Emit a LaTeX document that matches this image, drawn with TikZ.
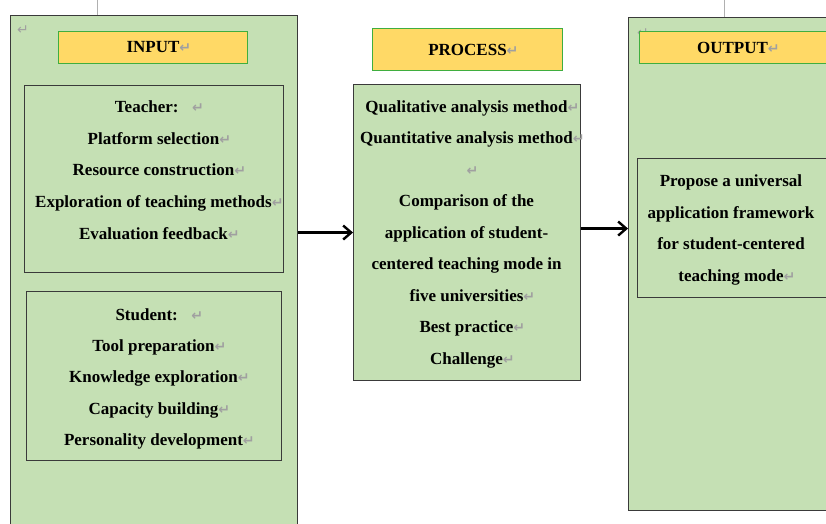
\documentclass[tikz,border=0pt]{standalone}
\usepackage{fontspec}
\setmainfont{Liberation Serif}
\newfontfamily\markfont{DejaVu Sans}
\usetikzlibrary{arrows.meta}

\definecolor{panelgreen}{HTML}{C5E0B4}
\definecolor{labelyellow}{HTML}{FFD966}
\definecolor{labeledge}{HTML}{3FAE3F}
\definecolor{edgegray}{HTML}{3A3A3A}
\definecolor{markgray}{HTML}{A0A0A0}
\definecolor{guidegray}{HTML}{B0B0B0}

% paragraph mark that does not shift the centred text
\newcommand{\retmark}{\rlap{\markfont\fontsize{14}{14}\selectfont\color{markgray}↵}}

\tikzset{
  panel/.style={draw=edgegray, line width=1.1pt, fill=panelgreen, anchor=north west, inner sep=0pt},
  innerbox/.style={draw=edgegray, line width=1.1pt, anchor=north west, inner sep=0pt},
  tag/.style={draw=labeledge, line width=1pt, fill=labelyellow, anchor=north west, inner sep=0pt,
              font=\fontsize{17}{20}\selectfont\bfseries},
  txtline/.style={font=\fontsize{17}{20}\selectfont\bfseries, anchor=mid, inner sep=0pt},
  lonemark/.style={anchor=mid, inner sep=0pt},
  flow/.style={line width=2.4pt, -{Straight Barb[length=8pt,width=14pt,line width=2.4pt]}},
  guide/.style={draw=guidegray, line width=0.8pt}
}

\begin{document}
\begin{tikzpicture}[x=1pt,y=-1pt]
\useasboundingbox (0,0) rectangle (826,523);
\clip (0,0) rectangle (826,523);

% ---------------- INPUT column ----------------
\node[panel, minimum width=287pt, minimum height=520pt] (inBox) at (10,15) {};
\coordinate (inTop) at (97,0);
\draw[guide] (inTop) -- (inTop |- inBox.north);
\node[lonemark] (inMark) at (17,32) {\retmark};
\node[tag, minimum width=189pt, minimum height=32pt] (inTag) at (58,31) {INPUT\retmark};

\node[innerbox, minimum width=259pt, minimum height=187pt] (teachBox) at (24,85) {};
\foreach \txt [count=\i] in {Teacher:\hspace{0.8em}\retmark, Platform selection\retmark,
    Resource construction\retmark, Exploration of teaching methods\retmark, Evaluation feedback\retmark}
  \node[txtline] (teach\i) at (153.5,{110+(\i-1)*31.8}) {\txt};

\node[innerbox, minimum width=255pt, minimum height=169pt] (studBox) at (26,291) {};
\foreach \txt [count=\i] in {Student:\hspace{0.8em}\retmark, Tool preparation\retmark,
    Knowledge exploration\retmark, Capacity building\retmark, Personality development\retmark}
  \node[txtline] (stud\i) at (153.5,{318+(\i-1)*31.3}) {\txt};

% ---------------- PROCESS column ----------------
\node[tag, minimum width=190pt, minimum height=42pt] (procTag) at (372,28) {PROCESS\retmark};
\node[panel, minimum width=227pt, minimum height=296pt] (procBox) at (353,84) {};
\foreach \txt [count=\i] in {Qualitative analysis method\retmark, Quantitative analysis method\retmark,
    \retmark, Comparison of the, application of student-, centered teaching mode in,
    five universities\retmark, Best practice\retmark, Challenge\retmark}
  \node[txtline] (proc\i) at (466.5,{110+(\i-1)*31.5}) {\txt};

% ---------------- OUTPUT column ----------------
\node[panel, minimum width=220pt, minimum height=493pt] (outBox) at (628,17) {};
\coordinate (outTop) at (724,0);
\draw[guide] (outTop) -- (outTop |- outBox.north);
\node[lonemark] (outMark) at (637,35) {\retmark};
\node[tag, minimum width=200pt, minimum height=32pt] (outTag) at (639,31) {\hspace{-14pt}OUTPUT\retmark};

\node[innerbox, minimum width=210pt, minimum height=139pt] (outInner) at (637,158) {};
\foreach \txt [count=\i] in {Propose a universal, application framework,
    for student-centered, teaching mode\retmark}
  \node[txtline] (out\i) at (731,{184.5+(\i-1)*31.5}) {\txt};

% ---------------- flow arrows ----------------
\draw[flow] (inBox.east |- procBox.west) -- (procBox.west);
\draw[flow] ([yshift=4pt]procBox.east) -- ([yshift=4pt]outBox.west |- procBox.east);
\end{tikzpicture}
\end{document}
